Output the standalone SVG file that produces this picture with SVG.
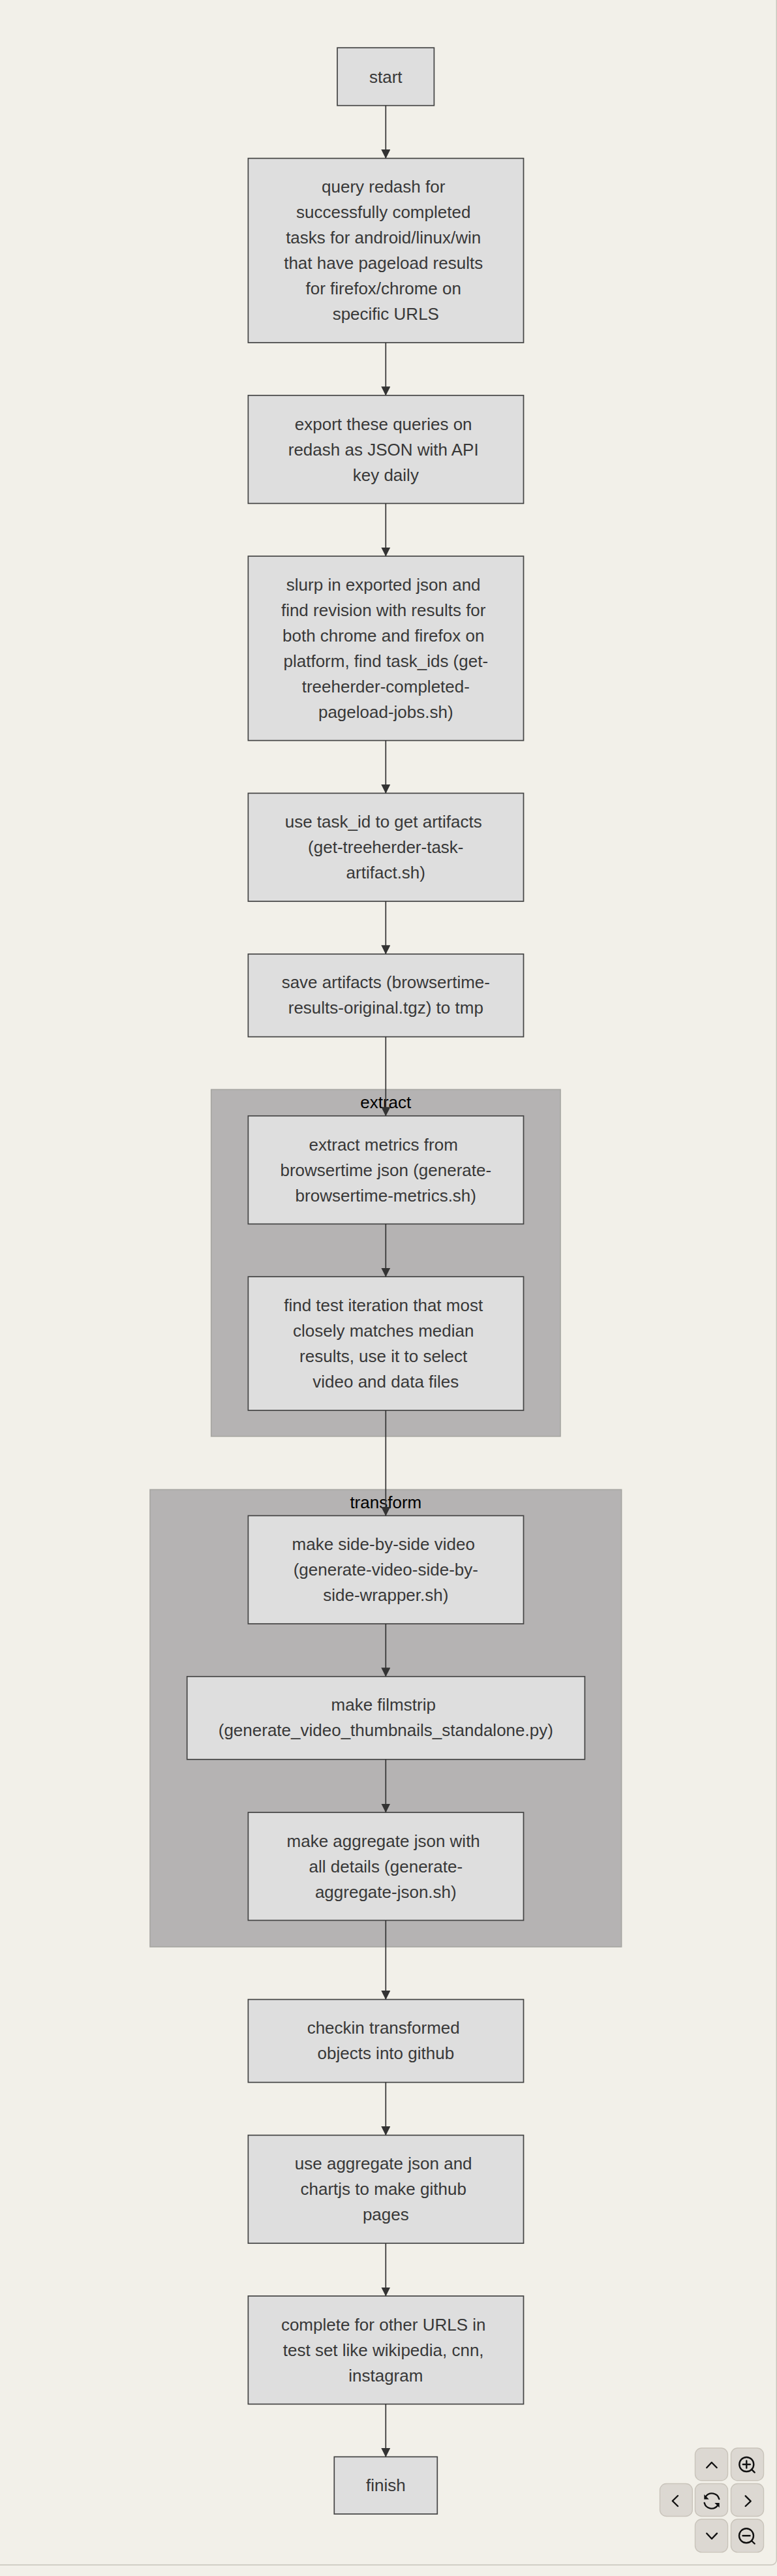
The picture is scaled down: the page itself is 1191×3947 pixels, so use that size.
<svg xmlns="http://www.w3.org/2000/svg" width="1191" height="3947" viewBox="0 0 1191 3947">
<style>
.bg{fill:#f2f0e9}
.panel{fill:#f2f0e9;stroke:#c8c4bb;stroke-width:1.4}
.cluster{fill:#b5b3b3;stroke:#a6a5a1;stroke-width:1.6}
.title{font:26px "Liberation Sans",Arial,sans-serif;fill:#000;text-anchor:middle}
.node rect{fill:#dedede;stroke:#444;stroke-width:1.7}
.node text{font:26px "Liberation Sans",Arial,sans-serif;fill:#383838;text-anchor:middle}
.edge{stroke:#333;stroke-width:1.7;fill:none;marker-end:url(#arrow)}
.btn{fill:#dcd8d2;stroke:#c9c4bb;stroke-width:1.4}
.ico{fill:none;stroke:#111;stroke-width:2.4;stroke-linecap:round;stroke-linejoin:round}
.icof{fill:#111;stroke:none}
</style>
<defs>
<marker id="arrow" markerUnits="userSpaceOnUse" markerWidth="14" markerHeight="14" refX="13.5" refY="7" orient="auto"><path d="M0,0L14,7L0,14z" fill="#333"/></marker>
</defs>
<rect class="bg" x="0" y="0" width="1191" height="3947"/>
<rect class="panel" x="-10" y="-20" width="1200.3" height="3950" rx="8"/>
<g id="clusters">
<g id="cluster-extract"><rect class="cluster" x="323.7" y="1669.4" width="535.3" height="531.4"/><text class="title" x="591.3" y="1698">extract</text></g>
<g id="cluster-transform"><rect class="cluster" x="230" y="2282.4" width="722.6" height="700.6"/><text class="title" x="591.3" y="2310.8">transform</text></g>
</g>
<g id="start" class="node"><rect x="517" y="73.2" width="148.4" height="88.5"/><text x="591.3" y="126.8">start</text></g>
<g id="query" class="node"><rect x="380.4" y="242.6" width="422.1" height="282.4"/>
<text x="587.7" y="295.2">query redash for</text><text x="587.7" y="334.2">successfully completed</text><text x="587.7" y="373.2">tasks for android/linux/win</text><text x="587.7" y="412.2">that have pageload results</text><text x="587.7" y="451.2">for firefox/chrome on</text><text x="591.3" y="490.2">specific URLS</text></g>
<g id="export" class="node"><rect x="380.4" y="605.8" width="422.1" height="165.6"/>
<text x="587.7" y="658.5">export these queries on</text><text x="587.7" y="697.5">redash as JSON with API</text><text x="591.3" y="736.5">key daily</text></g>
<g id="slurp" class="node"><rect x="380.4" y="852.2" width="422.1" height="282.4"/>
<text x="587.7" y="904.8">slurp in exported json and</text><text x="587.7" y="943.8">find revision with results for</text><text x="587.7" y="982.8">both chrome and firefox on</text><text x="591.3" y="1021.8">platform, find task_ids (get-</text><text x="591.3" y="1060.8">treeherder-completed-</text><text x="591.3" y="1099.8">pageload-jobs.sh)</text></g>
<g id="artifacts" class="node"><rect x="380.4" y="1215.4" width="422.1" height="165.6"/>
<text x="587.7" y="1268.1">use task_id to get artifacts</text><text x="591.3" y="1307.1">(get-treeherder-task-</text><text x="591.3" y="1346.1">artifact.sh)</text></g>
<g id="save" class="node"><rect x="380.4" y="1461.8" width="422.1" height="126.8"/>
<text x="591.3" y="1514.1">save artifacts (browsertime-</text><text x="591.3" y="1553.1">results-original.tgz) to tmp</text></g>
<g id="metrics" class="node"><rect x="380.4" y="1709.8" width="422.1" height="165.6"/>
<text x="587.7" y="1762.5">extract metrics from</text><text x="591.3" y="1801.5">browsertime json (generate-</text><text x="591.3" y="1840.5">browsertime-metrics.sh)</text></g>
<g id="iteration" class="node"><rect x="380.4" y="1956.2" width="422.1" height="204.8"/>
<text x="587.7" y="2008.9">find test iteration that most</text><text x="587.7" y="2047.9">closely matches median</text><text x="587.7" y="2086.9">results, use it to select</text><text x="591.3" y="2125.9">video and data files</text></g>
<g id="sidebyside" class="node"><rect x="380.4" y="2322.4" width="422.1" height="165.6"/>
<text x="587.7" y="2375.1">make side-by-side video</text><text x="591.3" y="2414.1">(generate-video-side-by-</text><text x="591.3" y="2453.1">side-wrapper.sh)</text></g>
<g id="filmstrip" class="node"><rect x="286.7" y="2568.8" width="609.7" height="127"/>
<text x="587.7" y="2621.2">make filmstrip</text><text x="591.3" y="2660.2">(generate_video_thumbnails_standalone.py)</text></g>
<g id="aggregate" class="node"><rect x="380.4" y="2777" width="422.1" height="165.4"/>
<text x="587.7" y="2829.6">make aggregate json with</text><text x="591.3" y="2868.6">all details (generate-</text><text x="591.3" y="2907.6">aggregate-json.sh)</text></g>
<g id="checkin" class="node"><rect x="380.4" y="3063.6" width="422.1" height="127"/>
<text x="587.7" y="3116">checkin transformed</text><text x="591.3" y="3155">objects into github</text></g>
<g id="chartjs" class="node"><rect x="380.4" y="3271.6" width="422.1" height="165.6"/>
<text x="587.7" y="3324.3">use aggregate json and</text><text x="587.7" y="3363.3">chartjs to make github</text><text x="591.3" y="3402.3">pages</text></g>
<g id="complete" class="node"><rect x="380.4" y="3518" width="422.1" height="165.6"/>
<text x="587.7" y="3570.7">complete for other URLS in</text><text x="587.7" y="3609.7">test set like wikipedia, cnn,</text><text x="591.3" y="3648.7">instagram</text></g>
<g id="finish" class="node"><rect x="512.3" y="3764.4" width="158" height="87.6"/><text x="591.3" y="3817.2">finish</text></g>
<g id="connectors">
<path class="edge" d="M591.3,161.7V242.6"/>
<path class="edge" d="M591.3,525V605.8"/>
<path class="edge" d="M591.3,771.4V852.2"/>
<path class="edge" d="M591.3,1134.6V1215.4"/>
<path class="edge" d="M591.3,1381V1461.8"/>
<path class="edge" d="M591.3,1588.6V1709.8"/>
<path class="edge" d="M591.3,1875.4V1956.2"/>
<path class="edge" d="M591.3,2161V2322.4"/>
<path class="edge" d="M591.3,2488V2568.8"/>
<path class="edge" d="M591.3,2695.8V2777"/>
<path class="edge" d="M591.3,2942.4V3063.6"/>
<path class="edge" d="M591.3,3190.6V3271.6"/>
<path class="edge" d="M591.3,3437.2V3518"/>
<path class="edge" d="M591.3,3683.6V3764.4"/>
</g>
<g id="controls">
<rect class="btn" x="1065.5" y="3751" width="50" height="49.8" rx="10"/>
<path class="ico" d="M1083.3,3781L1090.8,3773L1098.7,3781"/>
<rect class="btn" x="1120.5" y="3751" width="50" height="49.8" rx="10"/>
<circle class="ico" cx="1144.3" cy="3776" r="11"/><path class="ico" d="M1152,3783.7L1156.7,3788.3M1138.8,3776H1149.8M1144.3,3770.5V3781.5"/>
<rect class="btn" x="1011.5" y="3805.5" width="49.8" height="50" rx="10"/>
<path class="ico" d="M1039,3824L1030.8,3832L1039,3840"/>
<rect class="btn" x="1065.5" y="3805.5" width="50" height="50" rx="10"/>
<path class="ico" d="M1102.3,3829A11.5,11.5 0 0 0 1082,3825M1079.7,3835A11.5,11.5 0 0 0 1100,3839"/>
<path class="icof" d="M1079.3,3822L1079.3,3829.5L1086.7,3829.5zM1102.7,3842.2L1102.7,3835L1095.3,3835z"/>
<rect class="btn" x="1120.5" y="3805.5" width="50" height="50" rx="10"/>
<path class="ico" d="M1142.7,3824.3L1150.7,3832.3L1142.7,3840"/>
<rect class="btn" x="1065.5" y="3860" width="50" height="50.6" rx="10"/>
<path class="ico" d="M1083.3,3881.7L1091,3890L1099,3881.7"/>
<rect class="btn" x="1120.5" y="3860" width="50" height="50.6" rx="10"/>
<circle class="ico" cx="1144" cy="3885.3" r="11"/><path class="ico" d="M1152,3893L1156.7,3897.5M1138.5,3885.3H1149.5"/>
</g>
</svg>
